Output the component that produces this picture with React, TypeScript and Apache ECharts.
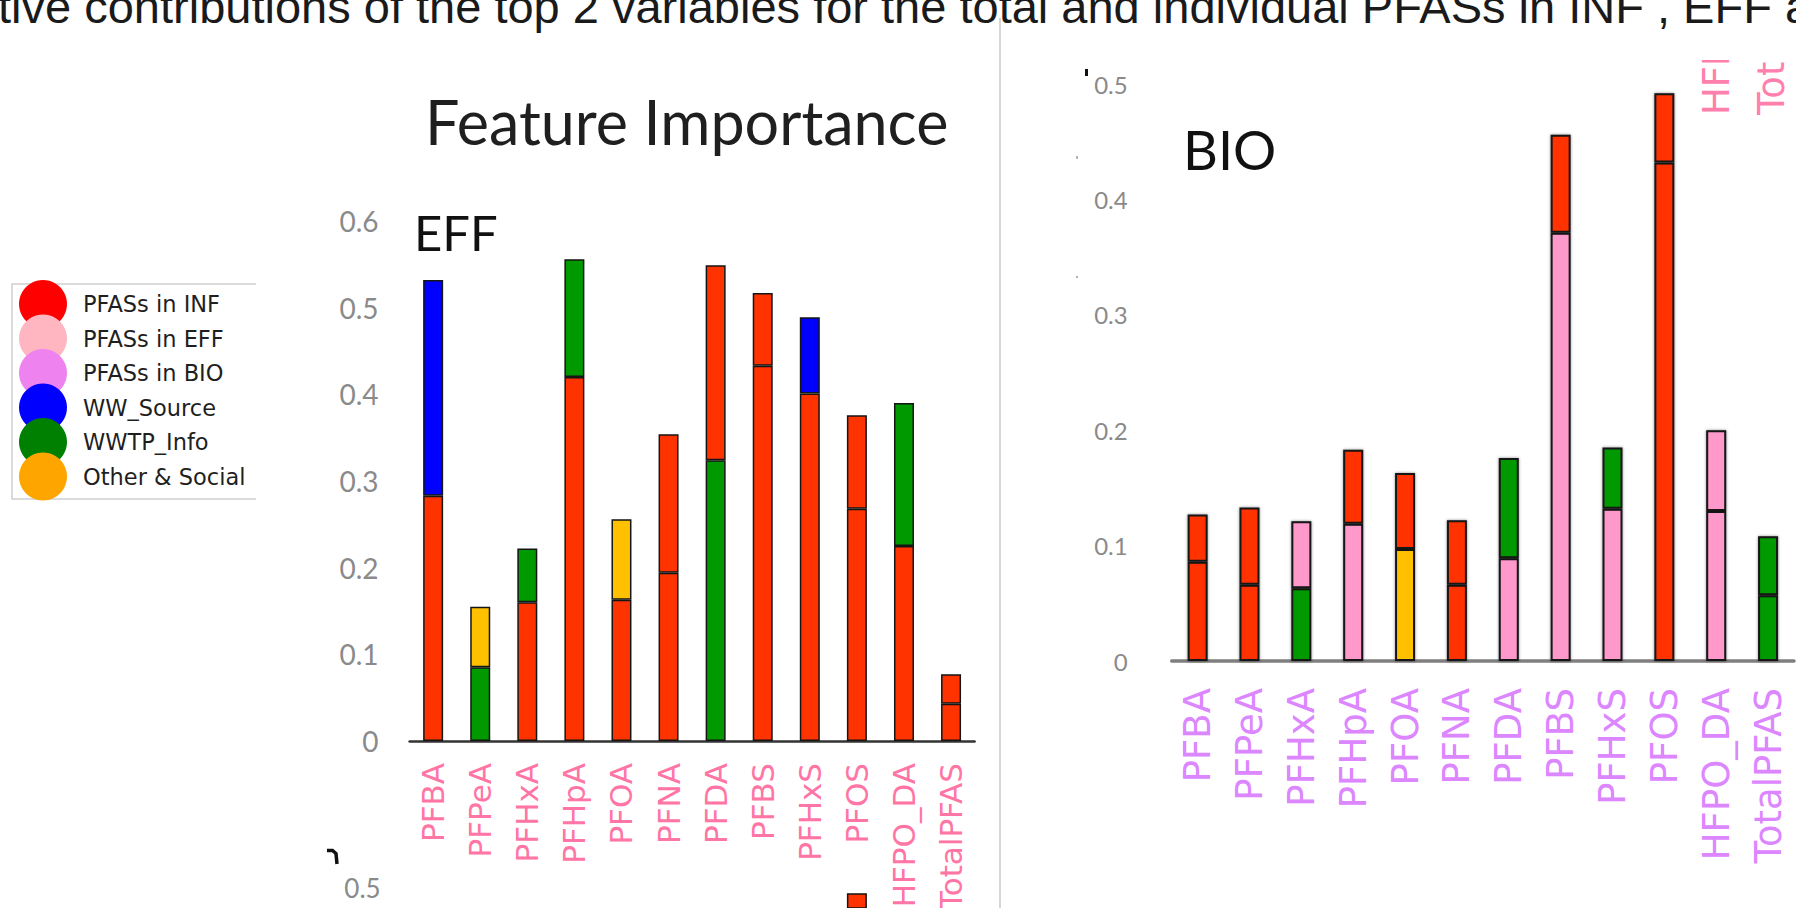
import React, { useEffect, useRef } from "react";
import * as echarts from "echarts";

// ---------- data ----------
const categories = ["PFBA", "PFPeA", "PFHxA", "PFHpA", "PFOA", "PFNA", "PFDA", "PFBS", "PFHxS", "PFOS", "HFPO_DA", "TotalPFAS"];

// EFF panel: most important variable (bottom) and second one (top)
const effFirst = [0.283, 0.085, 0.160, 0.420, 0.163, 0.194, 0.324, 0.433, 0.401, 0.268, 0.225, 0.043];
const effFirstGroup = ["INF", "WWTP", "INF", "INF", "INF", "INF", "WWTP", "INF", "INF", "INF", "INF", "INF"];
const effSecond = [0.249, 0.070, 0.062, 0.136, 0.093, 0.160, 0.225, 0.084, 0.088, 0.108, 0.165, 0.034];
const effSecondGroup = ["WW", "Other", "WWTP", "WWTP", "Other", "INF", "INF", "INF", "WW", "INF", "WWTP", "INF"];

// BIO panel
const bioFirst = [0.086, 0.066, 0.063, 0.119, 0.097, 0.066, 0.089, 0.371, 0.132, 0.432, 0.130, 0.057];
const bioFirstGroup = ["INF", "INF", "WWTP", "EFF", "Other", "INF", "EFF", "EFF", "EFF", "INF", "EFF", "WWTP"];
const bioSecond = [0.041, 0.067, 0.058, 0.064, 0.066, 0.056, 0.087, 0.085, 0.053, 0.060, 0.070, 0.051];
const bioSecondGroup = ["INF", "INF", "EFF", "INF", "INF", "INF", "WWTP", "INF", "WWTP", "INF", "EFF", "WWTP"];

// panel below EFF: only the top of one bar is visible
const lowerPanel = [null, null, null, null, null, null, null, null, null, 0.494, null, null];
const lowerPanelGroup = ["INF", "INF", "INF", "INF", "INF", "INF", "INF", "INF", "INF", "INF", "INF", "INF"];
const lowerPanelTicks = [0.5];

// legend
const legendLabels = ["PFASs in INF", "PFASs in EFF", "PFASs in BIO", "WW_Source", "WWTP_Info", "Other & Social"];
const legendColors = ["#ff0000", "#ffb6c1", "#ee82ee", "#0000ff", "#008000", "#ffa500"];

// texts
const captionText = "tive contributions of the top 2 variables for the total and individual PFASs in INF , EFF and BIO";
const chartTitle = "Feature Importance";
const effLabel = "EFF";
const bioLabel = "BIO";
const upperPanelLabels = ["HFPO_DA", "TotalPFAS"];

// ---------- styles ----------
const groupColors: Record<string, string> = {
  INF: "#ff3300",
  EFF: "#ff99cc",
  BIO: "#ee82ee",
  WW: "#0000ff",
  WWTP: "#009900",
  Other: "#ffc000",
};

const W = 1796;
const H = 908;

function toBars(vals: (number | null)[], groups: string[]) {
  return vals.map((v, i) =>
    v == null ? "-" : { value: v, itemStyle: { color: groupColors[groups[i]] } }
  );
}

export default function App() {
  const ref = useRef<HTMLDivElement>(null);

  useEffect(() => {
    document.body.style.margin = "0";
    const chart = echarts.init(ref.current!, null, { renderer: "svg" });

    const effGrid = { left: 409.6, top: 221, width: 565, height: 520, outerBoundsMode: "none", containLabel: false };
    const bioGrid = { left: 1171.7, top: 84, width: 622.3, height: 577, outerBoundsMode: "none", containLabel: false };
    // visible strip of the panel under EFF (same vertical scale as EFF)
    const lowGrid = { left: 409.6, top: 888, width: 565, height: 20, outerBoundsMode: "none", containLabel: false };
    const lowMin = 0.5 - 20 / 866.7;

    const yLabelStyle = (size: number, margin: number) => ({
      color: "#8a8a8a",
      fontFamily: "Lato",
      fontSize: size,
      margin,
    });

    const effBarStyle = { borderColor: "#151515", borderWidth: 1.5 };
    const bioBarStyle = {
      borderColor: "#151515",
      borderWidth: 2,
      shadowColor: "rgba(0,0,0,0.45)",
      shadowBlur: 3,
    };

    const legendGraphics: any[] = [];
    const rowTop = 304;
    const rowStep = 34.5;
    legendLabels.forEach((label, i) => {
      legendGraphics.push({
        type: "circle",
        shape: { cx: 43, cy: rowTop + i * rowStep, r: 24 },
        style: { fill: legendColors[i] },
        z: 10 + i,
      });
      legendGraphics.push({
        type: "text",
        x: 83,
        y: rowTop + i * rowStep,
        style: {
          text: label,
          fill: "#1f1f1f",
          fontFamily: "DejaVu Sans",
          fontSize: 22.5,
          align: "left",
          verticalAlign: "middle",
        },
        z: 30,
      });
    });

    const option: any = {
      animation: false,
      backgroundColor: "#ffffff",
      grid: [effGrid, bioGrid, lowGrid],
      xAxis: [
        {
          type: "category",
          gridIndex: 0,
          data: categories,
          axisTick: { show: false },
          axisLine: { lineStyle: { color: "#333", width: 2.5 } },
          axisLabel: {
            rotate: 90,
            interval: 0,
            margin: 22,
            color: "#ff75a5",
            fontFamily: "DejaVu Sans",
            fontSize: 31,
          },
        },
        {
          type: "category",
          gridIndex: 1,
          data: categories,
          axisTick: { show: false },
          axisLine: { lineStyle: { color: "#7f7f7f", width: 3.5 } },
          axisLabel: {
            rotate: 90,
            interval: 0,
            margin: 27,
            color: "#dc86ff",
            fontFamily: "DejaVu Sans",
            fontSize: 37,
          },
        },
        {
          type: "category",
          gridIndex: 2,
          data: categories,
          axisTick: { show: false },
          axisLine: { show: false },
          axisLabel: { show: false },
        },
      ],
      yAxis: [
        {
          type: "value",
          gridIndex: 0,
          min: 0,
          max: 0.6,
          interval: 0.1,
          splitLine: { show: false },
          axisLine: { show: false },
          axisTick: { show: false },
          axisLabel: yLabelStyle(28, 31),
        },
        {
          type: "value",
          gridIndex: 1,
          min: 0,
          max: 0.5,
          interval: 0.1,
          splitLine: { show: false },
          axisLine: { show: false },
          axisTick: { show: false },
          axisLabel: yLabelStyle(24, 44),
        },
        {
          type: "value",
          gridIndex: 2,
          min: lowMin,
          max: 0.5,
          splitLine: { show: false },
          axisLine: { show: false },
          axisTick: { show: false },
          axisLabel: {
            ...yLabelStyle(26, 29),
            customValues: lowerPanelTicks,
            formatter: (v: number) => v.toFixed(1),
          },
        },
      ],
      series: [
        {
          type: "bar",
          name: "EFF first",
          xAxisIndex: 0,
          yAxisIndex: 0,
          stack: "eff",
          barWidth: 20,
          itemStyle: effBarStyle,
          data: toBars(effFirst, effFirstGroup),
        },
        {
          type: "bar",
          name: "EFF second",
          xAxisIndex: 0,
          yAxisIndex: 0,
          stack: "eff",
          barWidth: 20,
          itemStyle: effBarStyle,
          data: toBars(effSecond, effSecondGroup),
        },
        {
          type: "bar",
          name: "BIO first",
          xAxisIndex: 1,
          yAxisIndex: 1,
          stack: "bio",
          barWidth: 20,
          itemStyle: bioBarStyle,
          data: toBars(bioFirst, bioFirstGroup),
        },
        {
          type: "bar",
          name: "BIO second",
          xAxisIndex: 1,
          yAxisIndex: 1,
          stack: "bio",
          barWidth: 20,
          itemStyle: bioBarStyle,
          data: toBars(bioSecond, bioSecondGroup),
        },
        {
          type: "bar",
          name: "Lower panel",
          xAxisIndex: 2,
          yAxisIndex: 2,
          barWidth: 20,
          clip: true,
          itemStyle: effBarStyle,
          data: toBars(lowerPanel, lowerPanelGroup),
        },
      ],
      graphic: [
        // labels of the panel above BIO (cut off)
        ...upperPanelLabels.map((t, i) => ({
          type: "text",
          x: [1716, 1771][i],
          y: 115,
          rotation: Math.PI / 2,
          style: {
            text: t,
            fill: "#ff80ad",
            fontFamily: "DejaVu Sans",
            fontSize: 37,
            align: "left",
            verticalAlign: "middle",
          },
          z: 5,
        })),
        {
          type: "rect",
          shape: { x: 1690, y: 0, width: 106, height: 60 },
          style: { fill: "#ffffff" },
          z: 8,
        },
        // figure caption, cut at the top edge
        {
          type: "text",
          x: -2,
          y: 6,
          style: {
            text: captionText,
            fill: "#1a1a1a",
            fontFamily: "Liberation Sans",
            fontSize: 47,
            align: "left",
            verticalAlign: "middle",
          },
          z: 20,
        },
        // divider
        {
          type: "line",
          shape: { x1: 1000, y1: 18, x2: 1000, y2: H },
          style: { stroke: "#d6d6d6", lineWidth: 2 },
          z: 1,
        },
        // panel titles
        {
          type: "text",
          x: 425,
          y: 152,
          style: {
            text: chartTitle,
            fill: "#1f1f1f",
            fontFamily: "Lato",
            fontSize: 61,
            align: "left",
            verticalAlign: "bottom",
          },
          z: 20,
        },
        {
          type: "text",
          x: 414,
          y: 256,
          style: {
            text: effLabel,
            fill: "#111",
            fontFamily: "Lato",
            fontSize: 49,
            align: "left",
            verticalAlign: "bottom",
          },
          z: 20,
        },
        {
          type: "text",
          x: 1183,
          y: 176,
          style: {
            text: bioLabel,
            fill: "#111",
            fontFamily: "Lato",
            fontSize: 54,
            align: "left",
            verticalAlign: "bottom",
          },
          z: 20,
        },
        // legend box (right side cut off)
        {
          type: "polyline",
          shape: { points: [[256, 284], [12, 284], [12, 499], [256, 499]] },
          style: { stroke: "#cfcfcf", lineWidth: 1.5, fill: null },
          z: 9,
        },
        ...legendGraphics,
        // small remnants of cut-off items
        {
          type: "rect",
          shape: { x: 1085, y: 69, width: 3, height: 7 },
          style: { fill: "#111" },
          z: 20,
        },
        {
          type: "rect",
          shape: { x: 1076, y: 156, width: 2, height: 3 },
          style: { fill: "#b5b5b5" },
          z: 20,
        },
        {
          type: "rect",
          shape: { x: 1076, y: 276, width: 2, height: 2 },
          style: { fill: "#b5b5b5" },
          z: 20,
        },
        {
          type: "polyline",
          shape: { points: [[327, 850.5], [332.5, 850.5], [336, 853.5], [337, 864]] },
          style: { stroke: "#111", lineWidth: 3.5, fill: null },
          z: 20,
        },
      ],
    };

    chart.setOption(option);
    return () => chart.dispose();
  }, []);

  return (
    <div
      ref={ref}
      style={{ position: "fixed", left: 0, top: 0, width: W, height: H, background: "#fff" }}
    />
  );
}
